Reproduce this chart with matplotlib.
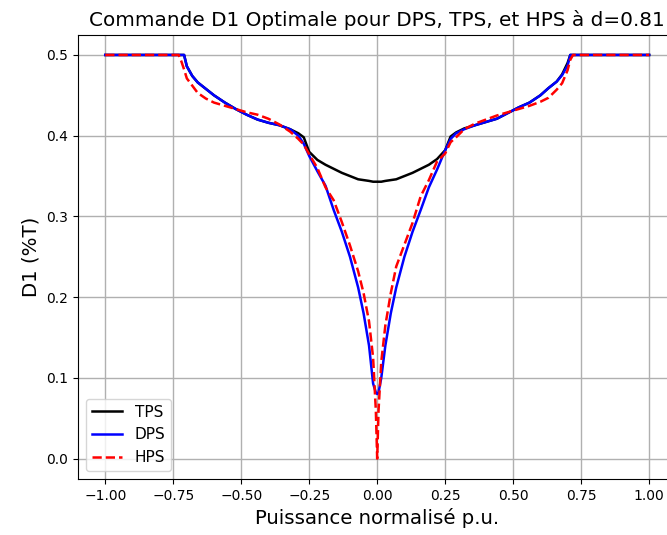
import numpy as np
import matplotlib
matplotlib.use("Agg")
import matplotlib.pyplot as plt

# puissance normalisee (p.u.)
p_values = [-1.0, -0.73, -0.72, -0.71, -0.70, -0.68, -0.66, -0.63, -0.60, -0.56,
            -0.52, -0.48, -0.44, -0.40, -0.36, -0.32, -0.29, -0.27, -0.25, -0.22,
            -0.19, -0.16, -0.13, -0.10, -0.07, -0.05, -0.03, -0.015, -0.005, 0.0,
            0.005, 0.015, 0.03, 0.05, 0.07, 0.10, 0.13, 0.16, 0.19, 0.22,
            0.25, 0.27, 0.29, 0.32, 0.36, 0.40, 0.44, 0.48, 0.52, 0.56,
            0.60, 0.63, 0.66, 0.68, 0.70, 0.71, 0.72, 0.73, 1.0]

d1_tps = [0.5, 0.5, 0.5, 0.5, 0.486, 0.474, 0.466, 0.458, 0.450, 0.441,
          0.433, 0.426, 0.420, 0.416, 0.413, 0.408, 0.403, 0.398, 0.380, 0.370,
          0.364, 0.359, 0.354, 0.350, 0.346, 0.345, 0.344, 0.343, 0.343, 0.343,
          0.343, 0.343, 0.344, 0.345, 0.346, 0.350, 0.354, 0.359, 0.364, 0.371,
          0.382, 0.399, 0.404, 0.409, 0.413, 0.417, 0.421, 0.428, 0.435, 0.441,
          0.450, 0.459, 0.467, 0.476, 0.490, 0.5, 0.5, 0.5, 0.5]

d1_dps = [0.5, 0.5, 0.5, 0.5, 0.486, 0.474, 0.466, 0.458, 0.450, 0.441,
          0.433, 0.426, 0.420, 0.416, 0.413, 0.408, 0.400, 0.390, 0.375, 0.356,
          0.338, 0.308, 0.281, 0.250, 0.212, 0.180, 0.140, 0.093, 0.082, 0.080,
          0.082, 0.100, 0.140, 0.180, 0.212, 0.250, 0.281, 0.308, 0.336, 0.358,
          0.382, 0.396, 0.403, 0.408, 0.413, 0.417, 0.421, 0.428, 0.435, 0.441,
          0.450, 0.459, 0.467, 0.475, 0.487, 0.5, 0.5, 0.5, 0.5]

d1_hps = [0.5, 0.5, 0.492, 0.482, 0.471, 0.462, 0.453, 0.446, 0.441, 0.437,
          0.433, 0.429, 0.426, 0.421, 0.414, 0.405, 0.396, 0.389, 0.377, 0.360,
          0.336, 0.320, 0.293, 0.264, 0.232, 0.205, 0.170, 0.125, 0.060, 0.0,
          0.060, 0.120, 0.165, 0.205, 0.238, 0.265, 0.292, 0.325, 0.345, 0.368,
          0.378, 0.392, 0.398, 0.408, 0.415, 0.420, 0.425, 0.429, 0.433, 0.437,
          0.442, 0.447, 0.457, 0.465, 0.481, 0.494, 0.5, 0.5, 0.5]

fig = plt.figure(figsize=(6.67, 5.35), dpi=100)
ax = fig.add_axes([0.117, 0.105, 0.897, 0.830])

ax.plot(p_values, d1_tps, color="black", lw=1.8, label="TPS")
ax.plot(p_values, d1_dps, color="blue", lw=1.8, label="DPS")
ax.plot(p_values, d1_hps, color="red", lw=1.8, ls="--", label="HPS")

ax.set_xticks(np.arange(-1.0, 1.01, 0.25))
ax.set_title("Commande D1 Optimale pour DPS, TPS, et HPS à d=0.81", fontsize=14.4)
ax.set_xlabel("Puissance normalisé p.u.", fontsize=14.2)
ax.set_ylabel("D1 (%T)", fontsize=14.2)
ax.grid(True, color="#b0b0b0", lw=1.0)
ax.legend(loc="lower left", fontsize=11)

plt.savefig("out.png", dpi=100)
